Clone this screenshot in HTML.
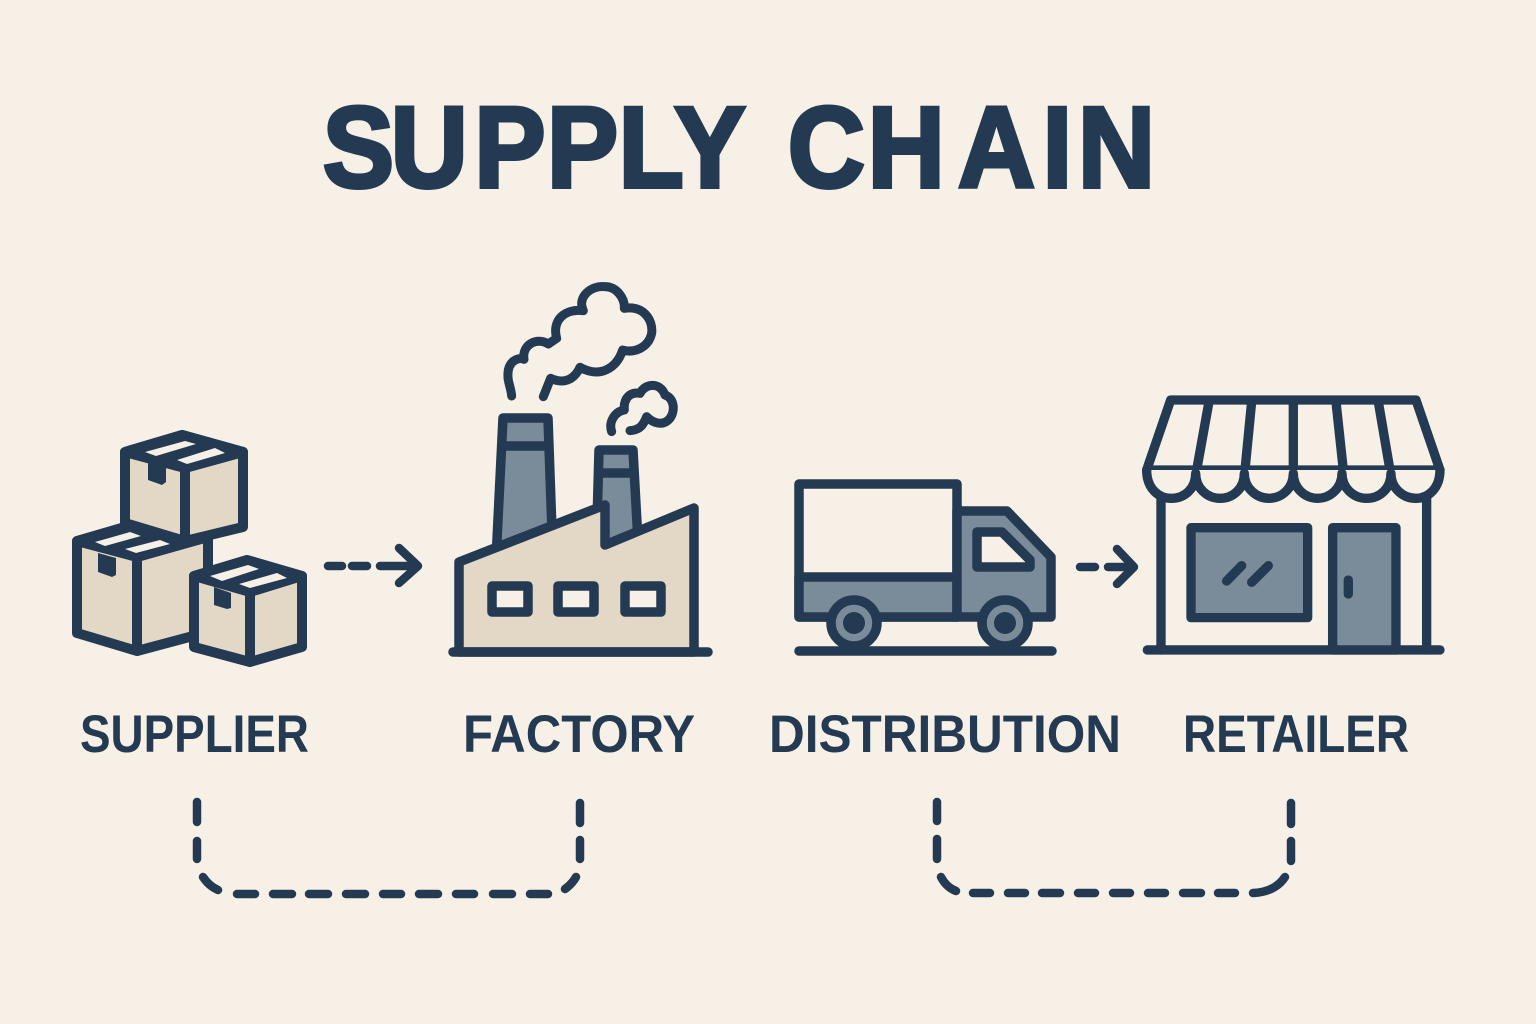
<!DOCTYPE html>
<html><head><meta charset="utf-8"><title>Supply Chain</title>
<style>html,body{margin:0;padding:0;background:#f6f0e6}svg{display:block}text{font-family:"Liberation Sans",sans-serif;font-weight:700;fill:#243a52}</style></head>
<body>
<svg width="1536" height="1024" viewBox="0 0 1536 1024" xmlns="http://www.w3.org/2000/svg">
<rect width="1536" height="1024" fill="#f6f0e6"/>
<text transform="scale(.93 1)" x="347 420 510 588 665 725 800 847 933 1030 1121 1159" y="187" font-size="115" stroke="#243a52" stroke-width="4">SUPPLY CHAIN</text>
<g font-size="53">
<text x="80" y="752" textLength="229" lengthAdjust="spacingAndGlyphs">SUPPLIER</text>
<text x="463" y="752" textLength="232" lengthAdjust="spacingAndGlyphs">FACTORY</text>
<text x="769" y="752" textLength="352" lengthAdjust="spacingAndGlyphs">DISTRIBUTION</text>
<text x="1183" y="752" textLength="226" lengthAdjust="spacingAndGlyphs">RETAILER</text>
</g>

<!-- Boxes -->
<g stroke="#243a52" stroke-width="10" stroke-linejoin="round" stroke-linecap="round">
 <!-- top box -->
 <path d="M125 452L182 435L243 452L243 527L185 541L125 523Z" fill="#e3d8c6"/>
 <path d="M125 452L185 468L243 452L182 435Z" fill="#243a52"/>
 <path d="M185 468V541" fill="none"/>
 <!-- big box -->
 <path d="M77 541L125 527L185 541L208 536V632L137 651L77 633Z" fill="#e3d8c6"/>
 <path d="M77 541L137 557L208 537L185 541L125 527Z" fill="#243a52"/>
 <path d="M137 557V651" fill="none"/>
 <!-- small box -->
 <path d="M194 576L247 560L302 576V647L250 662L194 647Z" fill="#e3d8c6"/>
 <path d="M194 576L250 592L302 576L247 560Z" fill="#243a52"/>
 <path d="M250 592V662" fill="none"/>
</g>
<g fill="#243a52">
 <path d="M148 463V480L162 485L166 482V467Z"/>
 <path d="M98 553V572L112 577L116 575V558Z"/>
 <path d="M214 587V605L227 609L231 608V593Z"/>
</g>
<g fill="#f6f0e6">
 <path d="M145 452L185 441L196 444L156 456Z"/>
 <path d="M177 460L215 448L225 453L187 464Z"/>
 <path d="M95 542L130 532L141 536L105 546Z"/>
 <path d="M125 549L160 540L170 544L136 553Z"/>
 <path d="M210 576L248 565L259 569L222 581Z"/>
 <path d="M239 584L277 573L287 578L250 588Z"/>
</g>

<!-- Arrow 1 -->
<g stroke="#243a52" stroke-width="8.5" fill="none" stroke-linecap="round" stroke-linejoin="round">
 <path d="M328 566H342M352 566H367M380 566H416"/>
 <path d="M399 548L418 566L399 583"/>
</g>

<!-- Factory -->
<g stroke="#243a52" stroke-width="9.5" stroke-linejoin="round" stroke-linecap="round">
 <path d="M496 560L503 418H548L553 560Z" fill="#7a8b99"/>
 <path d="M503 446H548" fill="none"/>
 <path d="M596 560L599 450H633L639 560Z" fill="#7a8b99"/>
 <path d="M600 473H633" fill="none"/>
 <path d="M459 652V562L605 505V545L694 508V652Z" fill="#e3d8c6"/>
 <path d="M453 652H708" fill="none"/>
 <rect x="492" y="586" width="36" height="26" fill="#f6f0e6"/>
 <rect x="558" y="586" width="36" height="26" fill="#f6f0e6"/>
 <rect x="625" y="586" width="36" height="26" fill="#f6f0e6"/>
</g>
<g transform="translate(440 270) scale(.3333)" fill="none" stroke="#243a52" stroke-width="27" stroke-linecap="round" stroke-linejoin="round">
 <path d="M215 378C212 345 200 335 205 300C212 268 240 262 252 268C245 225 290 200 325 222L350 205C335 150 375 115 430 122C410 80 455 45 495 50C530 50 555 85 553 115C610 105 640 150 635 190C625 235 580 250 548 240C530 295 480 325 420 292C405 325 375 345 332 325L310 380"/>
 <path d="M515 485C505 455 525 425 553 420C550 385 570 365 600 370C615 340 660 335 675 375C705 385 705 425 690 445C670 470 640 460 620 440C610 465 600 480 570 482"/>
</g>

<!-- Truck -->
<g stroke="#243a52" stroke-width="9.5" stroke-linejoin="round" stroke-linecap="round">
 <rect x="799" y="484" width="158" height="133" fill="#f6f0e6"/>
 <rect x="799" y="577" width="158" height="40" fill="#7a8b99"/>
 <path d="M957 511H1007L1051 557V617H957Z" fill="#7a8b99"/>
 <path d="M977 532H1002L1030 560V567H977Z" fill="#f6f0e6"/>
 <path d="M799 651H1052" fill="none"/>
 <circle cx="854" cy="623" r="23" fill="#7a8b99"/>
 <circle cx="854" cy="623" r="11" fill="#243a52" stroke="none"/>
 <circle cx="1005" cy="623" r="23" fill="#7a8b99"/>
 <circle cx="1005" cy="623" r="11" fill="#243a52" stroke="none"/>
</g>

<!-- Arrow 2 -->
<g stroke="#243a52" stroke-width="8.5" fill="none" stroke-linecap="round" stroke-linejoin="round">
 <path d="M1080 567H1095M1108 567H1131"/>
 <path d="M1117 549L1134 567L1117 584"/>
</g>

<!-- Store -->
<g transform="translate(1130 380) scale(.3333)" stroke="#243a52" stroke-width="28" stroke-linejoin="round" stroke-linecap="round" fill="none">
 <path d="M93 350V810M890 350V810"/>
 <path d="M52 810H930"/>
 <rect x="183" y="443" width="350" height="270" fill="#7a8b99"/>
 <rect x="608" y="443" width="190" height="367" fill="#7a8b99"/>
 <path d="M655 600V642M290 603L335 557M365 607L415 557"/>
 <path d="M122 60H858L930 270H50Z" fill="#f6f0e6"/>
 <path d="M237 65L200 270M365 65L345 270M490 60V270M618 65L640 270M745 65L780 270"/>
 <path d="M50 270C50 325 85 355 124 355C165 355 197 325 197 280C197 325 232 355 270 355C310 355 343 325 343 280C343 325 380 355 417 355C455 355 490 325 490 280C490 325 525 355 563 355C600 355 636 325 636 280C636 325 672 355 710 355C750 355 783 325 783 280C783 325 820 355 857 355C895 355 930 325 930 270" fill="#f6f0e6"/>
</g>

<!-- Dashed connectors -->
<g stroke="#243a52" stroke-width="8.5" fill="none" stroke-linecap="round">
 <path d="M197 802V822M197 841V859M203 877Q209 886 218 890"/>
 <path d="M237 894H255M273 894H292M309 894H328M346 894H365M383 894H401M419 894H438M456 894H474M493 894H512M530 894H548"/>
 <path d="M565 889Q572 884 576 877M580 840V859M580 803V823"/>
 <path d="M937 802V821M937 839V859M941 877Q946 887 956 891"/>
 <path d="M973 893H990M1008 893H1025M1042 893H1060M1078 893H1095M1113 893H1130M1148 893H1165M1183 893H1201M1218 893H1235"/>
 <path d="M1253 893Q1275 892 1285 877M1291 841V861M1291 803V824"/>
</g>
</svg>
</body></html>
